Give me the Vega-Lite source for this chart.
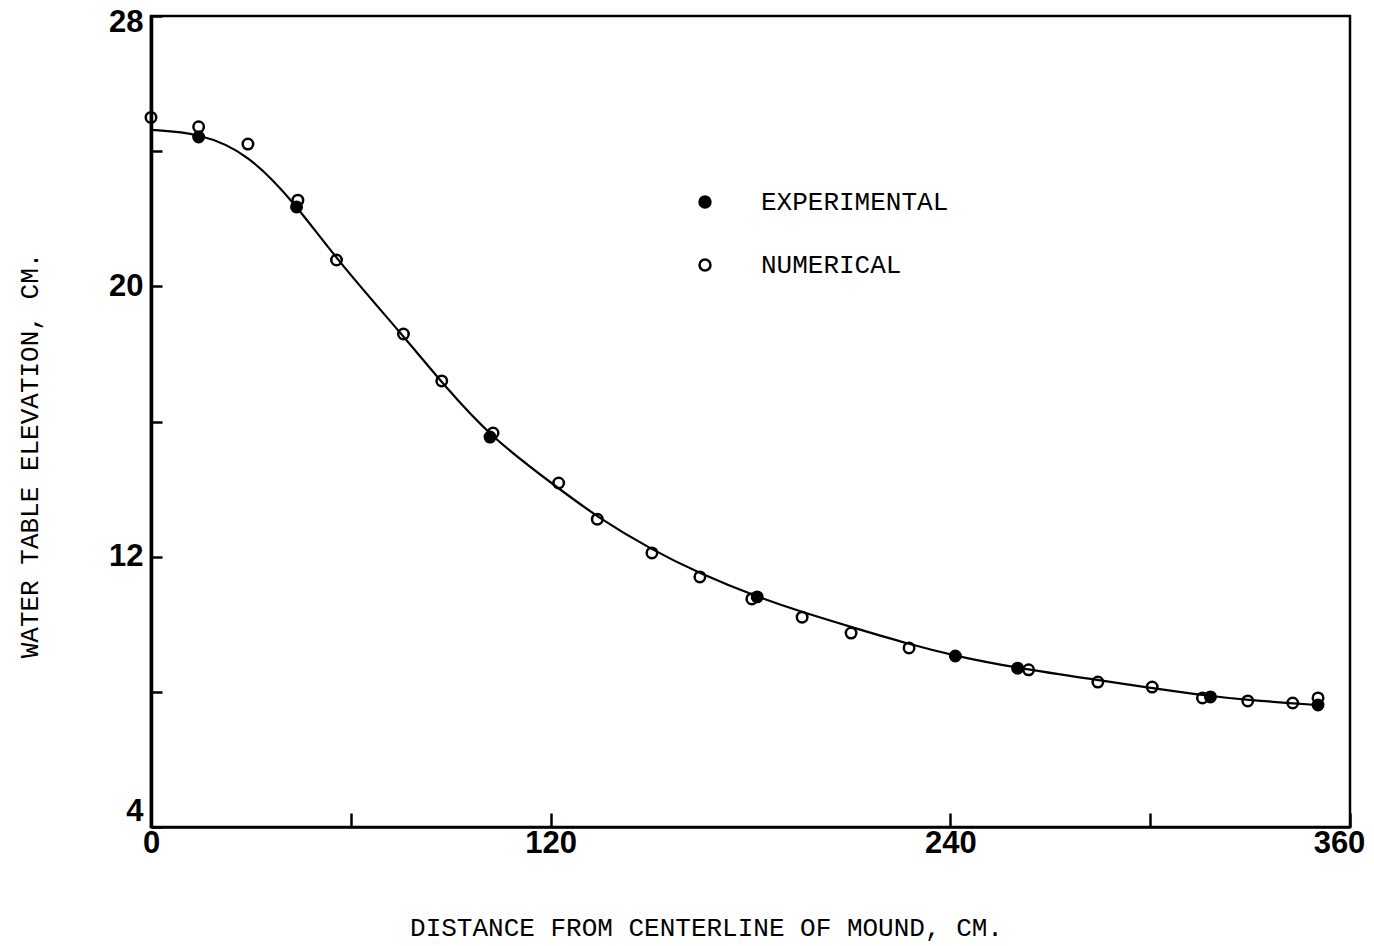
{
  "$schema": "https://vega.github.io/schema/vega-lite/v6.json",
  "autosize": "none",
  "width": 1199,
  "height": 811,
  "padding": {"left": 151, "top": 16, "right": 24, "bottom": 119},
  "background": "white",
  "config": {
    "view": {"stroke": "black", "strokeWidth": 2.5},
    "axis": {"grid": false, "domainColor": "black", "tickColor": "black", "labelColor": "black", "titleColor": "black"}
  },
  "datasets": {
    "points": [
      {"distance": 0, "elevation": 25.0, "type": "NUMERICAL"},
      {"distance": 14.3, "elevation": 24.72, "type": "NUMERICAL"},
      {"distance": 29.1, "elevation": 24.21, "type": "NUMERICAL"},
      {"distance": 44.1, "elevation": 22.55, "type": "NUMERICAL"},
      {"distance": 55.7, "elevation": 20.78, "type": "NUMERICAL"},
      {"distance": 75.8, "elevation": 18.59, "type": "NUMERICAL"},
      {"distance": 87.3, "elevation": 17.2, "type": "NUMERICAL"},
      {"distance": 102.7, "elevation": 15.66, "type": "NUMERICAL"},
      {"distance": 122.4, "elevation": 14.18, "type": "NUMERICAL"},
      {"distance": 134.0, "elevation": 13.11, "type": "NUMERICAL"},
      {"distance": 150.4, "elevation": 12.11, "type": "NUMERICAL"},
      {"distance": 164.8, "elevation": 11.4, "type": "NUMERICAL"},
      {"distance": 180.4, "elevation": 10.75, "type": "NUMERICAL"},
      {"distance": 195.5, "elevation": 10.21, "type": "NUMERICAL"},
      {"distance": 210.2, "elevation": 9.74, "type": "NUMERICAL"},
      {"distance": 227.6, "elevation": 9.3, "type": "NUMERICAL"},
      {"distance": 263.5, "elevation": 8.65, "type": "NUMERICAL"},
      {"distance": 284.3, "elevation": 8.29, "type": "NUMERICAL"},
      {"distance": 300.6, "elevation": 8.14, "type": "NUMERICAL"},
      {"distance": 315.7, "elevation": 7.82, "type": "NUMERICAL"},
      {"distance": 329.3, "elevation": 7.73, "type": "NUMERICAL"},
      {"distance": 342.8, "elevation": 7.67, "type": "NUMERICAL"},
      {"distance": 350.4, "elevation": 7.82, "type": "NUMERICAL"},
      {"distance": 14.3, "elevation": 24.42, "type": "EXPERIMENTAL"},
      {"distance": 43.7, "elevation": 22.35, "type": "EXPERIMENTAL"},
      {"distance": 101.8, "elevation": 15.54, "type": "EXPERIMENTAL"},
      {"distance": 182.0, "elevation": 10.81, "type": "EXPERIMENTAL"},
      {"distance": 241.5, "elevation": 9.06, "type": "EXPERIMENTAL"},
      {"distance": 260.2, "elevation": 8.7, "type": "EXPERIMENTAL"},
      {"distance": 318.1, "elevation": 7.85, "type": "EXPERIMENTAL"},
      {"distance": 350.4, "elevation": 7.61, "type": "EXPERIMENTAL"}
    ],
    "curve": [
      {"distance": 0, "elevation": 24.63},
      {"distance": 14.3, "elevation": 24.54},
      {"distance": 29.1, "elevation": 23.95},
      {"distance": 43.7, "elevation": 22.4},
      {"distance": 55.7, "elevation": 20.8},
      {"distance": 75.8, "elevation": 18.53},
      {"distance": 87.3, "elevation": 17.15},
      {"distance": 102.1, "elevation": 15.52},
      {"distance": 122.4, "elevation": 14.02},
      {"distance": 134.0, "elevation": 13.17},
      {"distance": 150.4, "elevation": 12.2},
      {"distance": 164.8, "elevation": 11.5},
      {"distance": 182.0, "elevation": 10.81},
      {"distance": 195.5, "elevation": 10.36},
      {"distance": 210.2, "elevation": 9.92},
      {"distance": 227.6, "elevation": 9.41},
      {"distance": 241.5, "elevation": 9.06},
      {"distance": 260.2, "elevation": 8.7},
      {"distance": 284.3, "elevation": 8.35},
      {"distance": 300.6, "elevation": 8.11},
      {"distance": 318.1, "elevation": 7.87},
      {"distance": 329.3, "elevation": 7.76},
      {"distance": 342.8, "elevation": 7.66},
      {"distance": 350.4, "elevation": 7.61}
    ]
  },
  "encoding": {
    "x": {
      "field": "distance", "type": "quantitative",
      "scale": {"domain": [0, 360], "nice": false, "zero": false},
      "axis": {
        "title": "DISTANCE FROM CENTERLINE OF MOUND, CM.",
        "values": [0, 60, 120, 240, 300, 360],
        "labelExpr": "datum.value % 120 == 0 ? datum.label : ''",
        "labelFont": "Liberation Sans", "labelFontWeight": "bold", "labelFontSize": 31,
        "labelPadding": 15, "labelFlush": false, "labelOverlap": false,
        "labelOffset": {"condition": {"test": "datum.value == 360", "value": -11}, "value": 0},
        "tickSize": -14, "tickWidth": 2.5,
        "domainWidth": 2.5,
        "titleFont": "Liberation Mono", "titleFontWeight": "normal", "titleFontSize": 26,
        "titleX": 555, "titleY": 108, "titleAlign": "center", "titleBaseline": "alphabetic"
      }
    },
    "y": {
      "field": "elevation", "type": "quantitative",
      "scale": {"domain": [4, 28], "nice": false, "zero": false},
      "axis": {
        "title": "WATER TABLE ELEVATION, CM.",
        "values": [4, 8, 12, 16, 20, 24, 28],
        "labelExpr": "datum.value % 8 == 4 ? datum.label : ''",
        "labelFont": "Liberation Sans", "labelFontWeight": "bold", "labelFontSize": 31,
        "labelPadding": 19, "labelFlush": true, "labelOverlap": false,
        "labelOffset": {"condition": {"test": "datum.value == 28", "value": -9}, "value": 0},
        "tickSize": -11, "tickWidth": 2.5,
        "domainWidth": 3.5,
        "titleFont": "Liberation Mono", "titleFontWeight": "normal", "titleFontSize": 26,
        "titleX": -114, "titleY": 439, "titleAngle": -90, "titleAlign": "center", "titleBaseline": "alphabetic"
      }
    }
  },
  "layer": [
    {
      "data": {"name": "curve"},
      "mark": {"type": "line", "color": "black", "strokeWidth": 2.2, "interpolate": "basis"},
      "encoding": {}
    },
    {
      "data": {"name": "points"},
      "mark": {"type": "point", "filled": true, "opacity": 1, "stroke": "black", "strokeWidth": 2.5, "size": 110},
      "encoding": {
        "fill": {
          "field": "type", "type": "nominal",
          "scale": {"domain": ["EXPERIMENTAL", "NUMERICAL"], "range": ["black", "rgba(255,255,255,0)"]},
          "legend": {
            "title": null,
            "orient": "none", "legendX": 541, "legendY": 173,
            "padding": 0, "rowPadding": 37,
            "symbolType": "circle", "symbolSize": 120, "symbolStrokeColor": "black", "symbolStrokeWidth": 2.5,
            "labelFont": "Liberation Mono", "labelFontSize": 26, "labelColor": "black", "labelOffset": 43, "labelLimit": 400
          }
        }
      }
    }
  ]
}
